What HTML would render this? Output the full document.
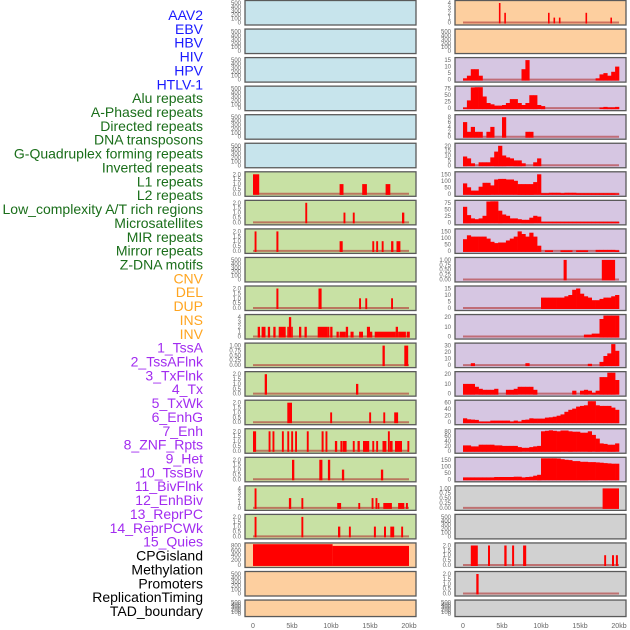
<!DOCTYPE html>
<html><head><meta charset="utf-8"><style>
html,body{margin:0;padding:0;background:#fff;width:630px;height:630px;overflow:hidden}
svg{display:block;font-family:"Liberation Sans",sans-serif}
</style></head><body>
<svg id="chart" width="630" height="630" viewBox="0 0 630 630"></svg>
<script>
const trackNames=["AAV2","EBV","HBV","HIV","HPV","HTLV-1","Alu repeats","A-Phased repeats","Directed repeats","DNA transposons","G-Quadruplex forming repeats","Inverted repeats","L1 repeats","L2 repeats","Low_complexity A/T rich regions","Microsatellites","MIR repeats","Mirror repeats","Z-DNA motifs","CNV","DEL","DUP","INS","INV","1_TssA","2_TssAFlnk","3_TxFlnk","4_Tx","5_TxWk","6_EnhG","7_Enh","8_ZNF_Rpts","9_Het","10_TssBiv","11_BivFlnk","12_EnhBiv","13_ReprPC","14_ReprPCWk","15_Quies","CPGisland","Methylation","Promoters","ReplicationTiming","TAD_boundary"];
const labelColors=["#1a1aff","#1a1aff","#1a1aff","#1a1aff","#1a1aff","#1a1aff","#1a6e1a","#1a6e1a","#1a6e1a","#1a6e1a","#1a6e1a","#1a6e1a","#1a6e1a","#1a6e1a","#1a6e1a","#1a6e1a","#1a6e1a","#1a6e1a","#1a6e1a","#ffa520","#ffa520","#ffa520","#ffa520","#ffa520","#a22cf0","#a22cf0","#a22cf0","#a22cf0","#a22cf0","#a22cf0","#a22cf0","#a22cf0","#a22cf0","#a22cf0","#a22cf0","#a22cf0","#a22cf0","#a22cf0","#a22cf0","#000","#000","#000","#000","#000"];
const xTickLabels=["0","5kb","10kb","15kb","20kb"];
const xTickKb=[0,5,10,15,20];
// tick sets
const tEmpty=[0,100,200,300,400,500];
const t2=[0,0.5,1.0,1.5,2.0];
const t4=[0,1,2,3,4];
const t1=[0,0.25,0.5,0.75,1.0];
// Left column spike tracks: [startKb,endKb,value]
const aluSpikes=[[0,0.8,2],[11.1,11.6,1],[14.0,14.6,1],[17.0,17.6,1]];
const aphasedSpikes=[[6.7,6.95,2],[11.6,11.85,1],[12.8,13.05,1],[19.1,19.4,1]];
const directedSpikes=[[0.2,0.45,2],[3.0,3.25,2],[11.1,11.5,1],[15.3,15.55,1],[15.8,16.05,1],[16.5,16.75,1],[17.7,18.0,1],[18.4,18.9,1]];
const gquadSpikes=[[3.0,3.25,2],[8.4,8.8,2],[13.6,13.85,1],[14.4,14.65,1],[17.7,17.95,1]];
const invertedSpikes=[[0.6,0.9,2],[1.1,1.6,2],[1.9,2.2,2],[2.6,2.9,2],[3.3,4.2,2],[4.4,4.6,2],[4.6,4.9,4],[4.9,5.1,2],[5.9,6.2,2],[6.6,6.9,2],[8.3,9.5,2],[9.5,9.8,2],[9.9,10.2,2],[10.7,11.0,1],[11.1,11.9,1],[11.9,12.2,2],[12.5,12.9,1],[13.6,14.1,1],[14.6,15.0,2],[15.0,15.3,1],[15.6,18.3,1],[18.3,18.6,2],[18.6,19.6,1],[19.7,20.1,1]];
const l1Spikes=[[16.6,16.9,1],[19.4,19.9,1]];
const l2Spikes=[[1.5,1.8,2],[13.2,13.5,1]];
const lowcSpikes=[[4.4,5.0,2],[9.9,10.15,1],[14.9,15.15,1],[16.7,16.95,1],[18.1,18.6,1]];
const microSpikes=[[0,0.4,2],[2.0,2.25,2],[2.5,2.75,2],[3.7,3.95,2],[4.4,4.65,2],[4.9,5.15,2],[5.4,5.65,2],[6.9,7.15,2],[8.8,9.05,2],[9.3,9.55,2],[10.5,10.8,1],[11.2,11.45,1],[11.5,12.0,1],[12.8,13.05,1],[13.4,13.7,1],[14.1,14.9,1],[15.3,15.55,1],[15.8,16.05,1],[16.6,17.1,1],[17.3,17.55,2],[17.55,17.9,1],[18.2,19.1,1],[19.8,20.05,1]];
const mirSpikes=[[5.0,5.3,2],[8.5,8.9,2],[9.6,9.9,2],[11.4,11.7,1],[16.4,16.7,1]];
const mirrorSpikes=[[0.2,0.45,4],[4.6,4.9,2],[6.2,6.45,2],[10.8,11.3,1],[13.5,13.75,1],[15.2,15.45,2],[15.7,15.95,2],[16.0,16.2,1],[16.7,17.8,1],[18.6,19.4,1],[19.6,19.85,1]];
const zdnaSpikes=[[0.2,0.45,2],[6.2,6.45,2],[10.9,11.2,1],[12.3,12.55,1],[15.5,15.75,1],[16.8,17.05,1],[17.6,18.1,1],[19.0,19.25,1]];
const cnvSpikes=[[0,10.2,850],[10.2,20.0,780]];
// Right column
const insSpikes=[[4.6,4.8,4],[5.3,5.5,2],[10.9,11.1,2],[11.6,11.8,1],[12.3,12.5,1],[15.7,15.9,2],[18.9,19.1,1]];
const tssaBins=[1,3,8,8,3,0,0,0,0,0,0,0,0,0,0,8,15,0,0,0,0,0,0,0,0,0,0,0,0,0,0,0,0,0,1,4,5,3,6,10];
const tssaflnkBins=[2,30,80,90,85,45,20,15,10,10,12,20,35,35,20,12,20,50,50,12,8,0,0,0,0,0,0,0,0,0,0,0,0,0,0,2,5,3,3,5];
const txflnkBins=[6,2,4,2,2,0,2,4,0,0,8,0,0,0,0,0,2,2,0,0,0,0,0,0,0,0,0,0,0,0,0,0,0,0,0,0,0,0,0,0];
const txBins=[9,7,2,0,3,3,3,8,14,20,10,8,7,5,5,2,0,0,3,7,0,0,0,0,0,0,0,0,0,0,0,0,0,0,0,0,0,0,0,0];
const txwkBins=[80,50,25,25,55,85,85,65,110,115,115,110,110,100,75,75,75,75,90,150,5,5,8,8,8,5,8,8,8,5,5,5,5,5,5,5,5,5,5,3];
const enhgBins=[60,28,15,12,15,25,80,95,85,45,30,25,15,15,12,10,10,18,25,22,2,2,2,2,2,2,2,2,2,2,2,2,2,2,2,2,2,2,2,2];
const enhBins=[90,120,110,110,110,110,95,70,60,65,65,80,95,110,150,130,110,140,110,40,0,5,5,0,0,5,5,5,0,5,5,5,0,0,8,8,8,8,8,5];
const znfSpikes=[[12.9,13.3,1],[17.8,19.5,1]];
const hetBins=[0,0,0,0,0,0,0,0,0,0,0,0,0,0,0,0,0,0,0,0,8,8,8,8,8,8,9,10,14,15,11,9,8,6,6,7,8,8,9,10];
const tssbivBins=[0,0,0,0,0,0,0,0,0,0,0,0,0,0,0,0,0,0,0,0,0,0,0,0,0,0,0,0,0,0,0,2,2,3,3,18,25,25,22,28];
const bivflnkBins=[0,0,3,0,0,0,0,0,0,0,0,0,0,0,0,0,3,0,0,0,0,0,0,0,0,0,0,0,0,0,0,0,2,0,0,5,14,18,33,22];
const enhbivBins=[10,10,10,7,5,4,4,4,5,0,0,4,4,5,7,7,7,7,4,0,0,0,0,0,0,0,0,0,3,0,3,4,3,1,3,17,17,23,28,14];
const reprpcBins=[12,9,8,7,2,2,2,5,5,5,5,5,2,5,2,7,8,12,11,11,11,14,15,17,20,24,32,38,42,48,50,52,65,65,52,50,50,50,45,38];
const reprpcwkBins=[22,22,18,18,25,25,25,25,22,22,20,20,20,20,15,12,12,15,18,20,80,82,84,82,80,83,83,80,78,78,74,74,80,65,50,30,28,25,25,30];
const quiesBins=[15,15,15,15,15,15,15,15,18,18,18,18,18,20,20,15,18,20,28,35,165,165,165,165,160,155,150,148,140,140,135,135,132,132,130,128,125,122,120,120];
const cpgSpikes=[[17.9,20.0,1]];
const promoterSpikes=[[1.0,1.9,2],[3.2,3.45,2],[5.3,5.6,2],[6.3,6.55,2],[7.7,8.1,2],[18.1,18.35,1],[19.1,19.35,1],[19.6,19.85,1]];
const repliSpikes=[[1.7,2.0,2]];

// track definitions: [col,row,fill,ticks,kind,data]
const BLUE="#c7e4ec",GREEN="#c8e1a4",ORANGE="#fdcf9f",PURPLE="#d6c6e2",GRAY="#d1d1d1";
const tracks=[
[0,0,BLUE,tEmpty,null,null],[0,1,BLUE,tEmpty,null,null],[0,2,BLUE,tEmpty,null,null],[0,3,BLUE,tEmpty,null,null],[0,4,BLUE,tEmpty,null,null],[0,5,BLUE,tEmpty,null,null],
[0,6,GREEN,t2,"s",aluSpikes],[0,7,GREEN,t2,"s",aphasedSpikes],[0,8,GREEN,t2,"s",directedSpikes],[0,9,GREEN,tEmpty,null,null],[0,10,GREEN,t2,"s",gquadSpikes],[0,11,GREEN,t4,"s",invertedSpikes],[0,12,GREEN,t1,"s",l1Spikes],[0,13,GREEN,t2,"s",l2Spikes],[0,14,GREEN,t2,"s",lowcSpikes],[0,15,GREEN,t2,"s",microSpikes],[0,16,GREEN,t2,"s",mirSpikes],[0,17,GREEN,t4,"s",mirrorSpikes],[0,18,GREEN,t2,"s",zdnaSpikes],
[0,19,ORANGE,[0,200,400,600,800],"s",cnvSpikes],[0,20,ORANGE,tEmpty,null,null],[0,21,ORANGE,tEmpty,null,null],
[1,0,ORANGE,t4,"s",insSpikes],[1,1,ORANGE,tEmpty,null,null],
[1,2,PURPLE,[0,5,10,15],"b",tssaBins],[1,3,PURPLE,[0,25,50,75],"b",tssaflnkBins],[1,4,PURPLE,[0,2,4,6,8],"b",txflnkBins],[1,5,PURPLE,[0,5,10,15,20],"b",txBins],[1,6,PURPLE,[0,50,100,150],"b",txwkBins],[1,7,PURPLE,[0,25,50,75],"b",enhgBins],[1,8,PURPLE,[0,50,100,150],"b",enhBins],[1,9,PURPLE,t1,"s",znfSpikes],[1,10,PURPLE,[0,5,10,15],"b",hetBins],[1,11,PURPLE,[0,10,20],"b",tssbivBins],[1,12,PURPLE,[0,10,20,30],"b",bivflnkBins],[1,13,PURPLE,[0,10,20],"b",enhbivBins],[1,14,PURPLE,[0,20,40,60],"b",reprpcBins],[1,15,PURPLE,[0,20,40,60,80],"b",reprpcwkBins],[1,16,PURPLE,[0,50,100,150],"b",quiesBins],
[1,17,GRAY,t1,"s",cpgSpikes],[1,18,GRAY,tEmpty,null,null],[1,19,GRAY,t2,"s",promoterSpikes],[1,20,GRAY,t2,"s",repliSpikes],[1,21,GRAY,tEmpty,null,null]
];
const NS="http://www.w3.org/2000/svg";
const svg=document.getElementById('chart');
function mk(tag,attrs,parent){const e=document.createElementNS(NS,tag);for(const k in attrs)e.setAttribute(k,attrs[k]);(parent||svg).appendChild(e);return e;}
// labels
trackNames.forEach((n,i)=>{
  const t=mk('text',{x:203,y:(20+i*13.86).toFixed(1),'text-anchor':'end','font-size':'14',fill:labelColors[i]});
  
  
  t.textContent=n;
});
const PX_PER_KB=7.8;
function xScale(col,kb){return (col?463:253)+kb*PX_PER_KB;}
tracks.forEach((tr,ti)=>{
  const [col,row,fill,ticks,kind,data]=tr;
  const left=col?455:245, w=171;
  const top=row*28.55+0.5, h=row===21?16.5:24.5;
  const g=mk('g',{});
  
  
  const maxT=ticks[ticks.length-1];
  const y0=top+h-2.5, yTop=top+2.5;
  const yScale=v=>y0-(v/maxT)*(y0-yTop);
  mk('rect',{x:left,y:top,width:w,height:h,fill:fill,stroke:'#5a5a5a','stroke-width':1.3},g);
  ticks.forEach(tv=>{
    const lt=mk('text',{x:left-4,y:(yScale(tv)+2).toFixed(1),'text-anchor':'end','font-size':'6',fill:'#666'},g);
    
    
    lt.textContent=(ticks===t1)?tv.toFixed(2):(ticks===t2?tv.toFixed(1):String(tv));
  });
  if(kind){
    mk('line',{x1:xScale(col,0),x2:xScale(col,20),y1:y0,y2:y0,stroke:'#b03030','stroke-opacity':0.6,'stroke-width':2},g);
    if(kind==='s'){
      data.forEach(d=>{
        const x1=xScale(col,d[0]),x2=xScale(col,d[1]);
        const yv=Math.max(yScale(d[2]),top+1);
        const r=mk('rect',{x:x1.toFixed(1),y:yv.toFixed(1),width:Math.max(1.5,x2-x1).toFixed(1),height:(y0-yv+1).toFixed(1),fill:'#ff0000'},g);
        
        
      });
    } else {
      const bw=20/data.length;
      data.forEach((v,i)=>{
        if(v<=0)return;
        const x1=xScale(col,i*bw),x2=xScale(col,(i+1)*bw);
        const yv=Math.max(yScale(v),top+1);
        const r=mk('rect',{x:x1.toFixed(1),y:yv.toFixed(1),width:(x2-x1+0.3).toFixed(1),height:(y0-yv+1).toFixed(1),fill:'#ff0000'},g);
        
        
      });
    }
  }
});
[0,1].forEach(col=>{
  xTickKb.forEach((kb,i)=>{
    const t=mk('text',{x:xScale(col,kb),y:628,'text-anchor':'middle','font-size':'7',fill:'#666'});
    
    
    t.textContent=xTickLabels[i];
  });
});
</script>
</body></html>
